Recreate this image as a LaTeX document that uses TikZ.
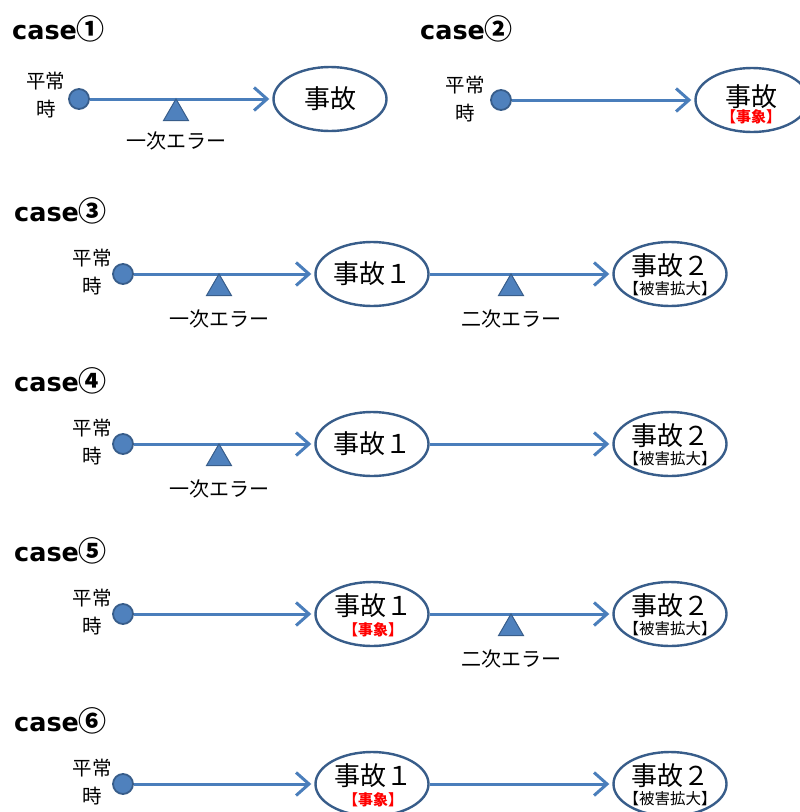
\documentclass[tikz,border=0pt]{standalone}
\usepackage{fontspec}
\usetikzlibrary{arrows.meta,shapes.geometric}
\newfontfamily\jp{Noto Sans CJK JP}
\newfontfamily\ttlfont{DejaVu Sans}
\definecolor{dotfill}{HTML}{4F81BD}
\definecolor{edge}{HTML}{385D8A}
\definecolor{arrowc}{HTML}{4A7EBB}
\definecolor{evred}{HTML}{FF0000}
\tikzset{
  dot/.style={circle, minimum size=20pt, inner sep=0pt, fill=dotfill, draw=edge, line width=1.8pt},
  ev/.style={ellipse, minimum width=113pt, minimum height=64pt, inner sep=0pt, draw=edge, line width=2.4pt, fill=white},
  arr/.style={draw=arrowc, line width=3pt, -{Straight Barb[length=13pt,width=23pt]}, shorten >=3pt},
  tri/.style={regular polygon, regular polygon sides=3, minimum size=28.9pt, inner sep=0pt, fill=dotfill, draw=edge, line width=1pt},
  lbl/.style={font=\jp\fontsize{19.5}{28}\selectfont, align=center, inner sep=0pt},
  errlbl/.style={font=\jp\fontsize{20}{24}\selectfont, inner sep=0pt},
  big/.style={font=\jp\fontsize{26}{30}\selectfont, inner sep=0pt},
  subtxt/.style={font=\jp\fontsize{15.5}{18}\selectfont, inner sep=0pt},
  redtxt/.style={font=\jp\bfseries\fontsize{15}{18}\selectfont, inner sep=0pt, text=evred},
  ttl/.style={anchor=base west, inner sep=0pt}
}
\newcommand{\casettl}[1]{{\ttlfont\bfseries\fontsize{25.5}{30}\selectfont case}{\jp\bfseries\fontsize{28}{30}\selectfont #1}}
\begin{document}
\begin{tikzpicture}[x=1pt,y=-1pt]
\useasboundingbox (0,0) rectangle (800,812);
% ---------- case 1
\node[ttl] (t1) at (12,39) {\casettl{①}};
\node[dot] (c1d) at (79,99) {};
\node[lbl] (c1n) at (46,95) {平常\\時};
\node[ev, big] (c1e) at (330,99) {事故};
\draw[arr] (c1d) -- (c1e);
\node[tri] (c1t) at (176,113.4) {};
\node[errlbl] (c1l) at (176,141) {一次エラー};
% ---------- case 2
\node[ttl] (t2) at (420,39) {\casettl{②}};
\node[dot] (c2d) at (501,100) {};
\node[lbl] (c2n) at (465,99) {平常\\時};
\node[ev] (c2e) at (752,100) {};
\node[big] (c2x) at (751,97) {事故};
\node[redtxt] (c2r) at (751,117) {【事象】};
\draw[arr] (c2d) -- (c2e);
% ---------- case 3
\node[ttl] (t3) at (14,221) {\casettl{③}};
\node[dot] (c3d) at (123,274) {};
\node[lbl] (c3n) at (92,272) {平常\\時};
\node[ev, big] (c3a) at (372,274) {事故１};
\node[ev] (c3b) at (670,274) {};
\node[big] (c3bx) at (670,266) {事故２};
\node[subtxt] (c3bs) at (670,289) {【被害拡大】};
\draw[arr] (c3d) -- (c3a);
\draw[arr] (c3a) -- (c3b);
\node[tri] (c3t1) at (219,288.4) {};
\node[errlbl] (c3l1) at (219,319) {一次エラー};
\node[tri] (c3t2) at (511,288.4) {};
\node[errlbl] (c3l2) at (511,319) {二次エラー};
% ---------- case 4
\node[ttl] (t4) at (14,391) {\casettl{④}};
\node[dot] (c4d) at (123,444) {};
\node[lbl] (c4n) at (92,442) {平常\\時};
\node[ev, big] (c4a) at (372,444) {事故１};
\node[ev] (c4b) at (670,444) {};
\node[big] (c4bx) at (670,436) {事故２};
\node[subtxt] (c4bs) at (670,459) {【被害拡大】};
\draw[arr] (c4d) -- (c4a);
\draw[arr] (c4a) -- (c4b);
\node[tri] (c4t1) at (219,458.4) {};
\node[errlbl] (c4l1) at (219,489) {一次エラー};
% ---------- case 5
\node[ttl] (t5) at (14,561) {\casettl{⑤}};
\node[dot] (c5d) at (123,614) {};
\node[lbl] (c5n) at (92,612) {平常\\時};
\node[ev] (c5a) at (372,614) {};
\node[big] (c5ax) at (373,606) {事故１};
\node[redtxt] (c5ar) at (373,630) {【事象】};
\node[ev] (c5b) at (670,614) {};
\node[big] (c5bx) at (670,606) {事故２};
\node[subtxt] (c5bs) at (670,629) {【被害拡大】};
\draw[arr] (c5d) -- (c5a);
\draw[arr] (c5a) -- (c5b);
\node[tri] (c5t2) at (511,628.4) {};
\node[errlbl] (c5l2) at (511,659) {二次エラー};
% ---------- case 6
\node[ttl] (t6) at (14,731) {\casettl{⑥}};
\node[dot] (c6d) at (123,784) {};
\node[lbl] (c6n) at (92,782) {平常\\時};
\node[ev] (c6a) at (372,784) {};
\node[big] (c6ax) at (373,776) {事故１};
\node[redtxt] (c6ar) at (373,800) {【事象】};
\node[ev] (c6b) at (670,784) {};
\node[big] (c6bx) at (670,776) {事故２};
\node[subtxt] (c6bs) at (670,799) {【被害拡大】};
\draw[arr] (c6d) -- (c6a);
\draw[arr] (c6a) -- (c6b);
\end{tikzpicture}
\end{document}
